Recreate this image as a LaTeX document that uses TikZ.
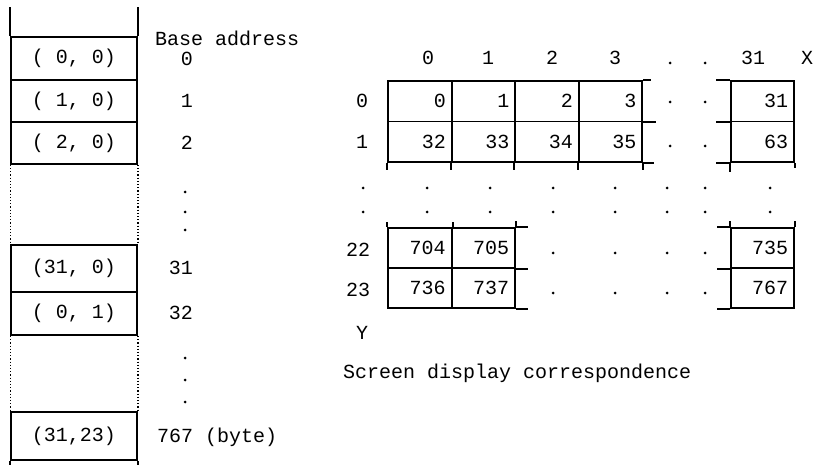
\documentclass[tikz,border=0pt]{standalone}
\usepackage{fontspec}
\setmainfont{Liberation Mono}
\begin{document}
\begin{tikzpicture}[x=1pt,y=-1pt,
  every node/.style={font=\fontsize{20}{22}\selectfont, inner sep=0pt},
  membox/.style={draw, line width=1.8pt, minimum width=126pt},
  cell/.style={draw, line width=1.8pt, text width=51.5pt, inner xsep=6pt, align=right},
  rcell/.style={cell, text width=51pt},
  gl/.style={line width=1.8pt},
  dotl/.style={line width=1.2pt, dotted}]
\useasboundingbox (0,0) rectangle (814,465);

% memory column
\node[membox, minimum height=43pt] (m1) at (74,58.5) {( 0, 0)};
\node[membox, minimum height=42pt] (m2) at (74,101) {( 1, 0)};
\node[membox, minimum height=42pt] (m3) at (74,143) {( 2, 0)};
\node[membox, minimum height=47pt] (m4) at (74,268.5) {(31, 0)};
\node[membox, minimum height=43pt] (m5) at (74,313.5) {( 0, 1)};
\node[membox, minimum height=48pt] (m6) at (74,436) {(31,23)};

\draw[gl] (m1.north west) -- ++(0,-29);
\draw[gl] (m1.north east) -- ++(0,-29);
\draw[dotl] (m3.south west) -- (m4.north west);
\draw[dotl] (m3.south east) -- (m4.north east);
\draw[dotl] (m5.south west) -- (m6.north west);
\draw[dotl] (m5.south east) -- (m6.north east);
\draw[gl] (m6.south west) -- ++(0,6);
\draw[gl] (m6.south east) -- ++(0,6);

% addresses
\node[anchor=west] (ba) at (155,38) {Base address};
\node[anchor=east] (a0) at (193,59) {0};
\node[anchor=east] (a1) at (193,101) {1};
\node[anchor=east] (a2) at (193,143) {2};
\node[anchor=east] (a31) at (193,268) {31};
\node[anchor=east] (a32) at (193,313) {32};
\node[anchor=west] (a767) at (157,437) {767 (byte)};
\foreach \y in {192,212,230,358,380,402} \fill (185,\y) circle (1.5pt);

% column headers
\node (h0) at (428,58) {0};
\node (h1) at (488,58) {1};
\node (h2) at (552,58) {2};
\node (h3) at (615,58) {3};
\node (h31) at (753,58) {31};
\node (hx) at (807,58) {X};
\fill (670,63) circle (1.5pt);
\fill (705,63) circle (1.5pt);

% row labels
\node (r0) at (362,101) {0};
\node (r1) at (362,142) {1};
\node (r22) at (358,250) {22};
\node (r23) at (358,290) {23};
\node (ry) at (362,333) {Y};

% top grid
\node[cell, minimum height=40.5pt] (t00) at (420,101.25) {0};
\node[cell, minimum height=40.5pt] (t01) at (483.5,101.25) {1};
\node[cell, minimum height=40.5pt] (t02) at (547,101.25) {2};
\node[cell, minimum height=40.5pt] (t03) at (610.5,101.25) {3};
\node[rcell, minimum height=40.5pt] (t0r) at (762.5,101.25) {31};
\node[cell, minimum height=40.5pt] (t10) at (420,141.75) {32};
\node[cell, minimum height=40.5pt] (t11) at (483.5,141.75) {33};
\node[cell, minimum height=40.5pt] (t12) at (547,141.75) {34};
\node[cell, minimum height=40.5pt] (t13) at (610.5,141.75) {35};
\node[rcell, minimum height=40.5pt] (t1r) at (762.5,141.75) {63};

\draw[gl] (t03.north east) -- ++(8,0);
\draw[gl] (t03.south east) -- ++(13,0);
\draw[gl] (t13.south east) -- ++(11,0);
\draw[gl] (t0r.north west) -- ++(-14,0);
\draw[gl] (t0r.south west) -- ++(-14,0);
\draw[gl] (t1r.south west) -- ++(-14,0);
\foreach \n in {t10,t11,t12,t13} \draw[gl] (\n.south west) -- ++(0,7);
\draw[gl] (t13.south east) -- ++(0,7);
\draw[gl] (t1r.south west) -- ++(0,9);
\draw[gl] (t1r.south east) -- ++(0,5);

% dots rows
\foreach \y in {188,212}
  \foreach \x in {363,427,490,553,615,667,705,770}
    \fill (\x,\y) circle (1.5pt);
\foreach \y in {102,146}
  \foreach \x in {670,705}
    \fill (\x,\y) circle (1.5pt);
\foreach \y in {253,293}
  \foreach \x in {553,615,667,705}
    \fill (\x,\y) circle (1.5pt);

% lower grid
\node[cell, minimum height=40pt] (l00) at (420,248) {704};
\node[cell, minimum height=40pt] (l01) at (483.5,248) {705};
\node[rcell, minimum height=40pt] (lr0) at (762.5,248) {735};
\node[cell, minimum height=40pt] (l10) at (420,288) {736};
\node[cell, minimum height=40pt] (l11) at (483.5,288) {737};
\node[rcell, minimum height=40pt] (lr1) at (762.5,288) {767};

\draw[gl] (l01.north east) -- ++(12,0);
\draw[gl] (l01.south east) -- ++(12,0);
\draw[gl] (l11.south east) -- ++(12,0);
\draw[gl] (l00.north west) -- ++(0,-5);
\draw[gl] (l00.north east) -- ++(0,-5);
\draw[gl] (l01.north east) -- ++(0,-6);
\draw[gl] (lr0.north west) -- ++(-13,0);
\draw[gl] (lr0.south west) -- ++(-13,0);
\draw[gl] (lr1.south west) -- ++(-13,0);
\draw[gl] (lr0.north west) -- ++(0,-6);
\draw[gl] (lr0.north east) -- ++(0,-6);

\node[anchor=west] (cap) at (343,373) {Screen display correspondence};
\end{tikzpicture}
\end{document}
